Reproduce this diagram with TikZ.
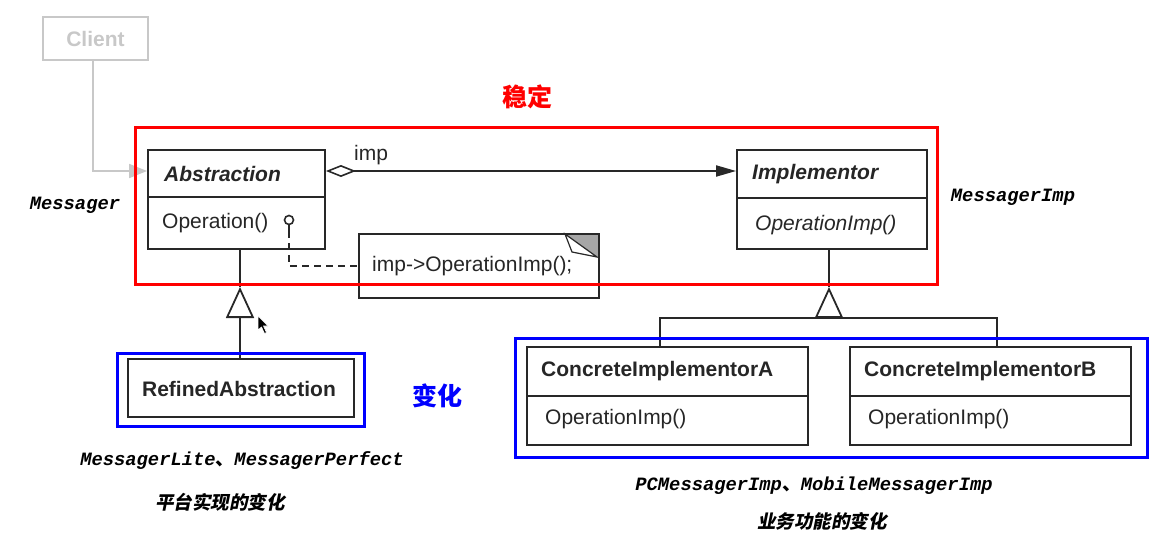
\documentclass[tikz,border=0pt]{standalone}
\usepackage{fontspec}
\setmainfont{Liberation Sans}
\newfontfamily\monob{Liberation Mono}
\newfontfamily\cjk{Noto Sans CJK SC}
\newfontfamily\cjksl{Noto Sans CJK SC}[FakeSlant=0.2]
\usetikzlibrary{arrows.meta}
\definecolor{ured}{RGB}{255,0,0}
\definecolor{ublue}{RGB}{0,0,255}
\definecolor{ugray}{RGB}{200,200,200}
\definecolor{uline}{RGB}{40,40,40}
\begin{document}
\begin{tikzpicture}[x=1pt,y=-1pt,
  box/.style={draw=uline, line width=1.8pt, fill=white, inner sep=0pt},
  boxline/.style={draw=uline, line width=1.8pt},
  uml/.style={inner sep=0pt, text=black!85, font=\fontsize{21}{25}\selectfont},
  umlb/.style={uml, font=\fontsize{21}{25}\selectfont\bfseries},
  umlbi/.style={uml, font=\fontsize{21}{25}\selectfont\bfseries\itshape},
  umli/.style={uml, font=\fontsize{21}{25}\selectfont\itshape},
  frame/.style={line width=3pt},
  mono/.style={inner sep=0pt, font=\monob\bfseries\itshape\fontsize{18.8}{22}\selectfont},
  cjkcap/.style={inner sep=0pt, font=\cjksl\bfseries\fontsize{18.5}{22}\selectfont},
  cjkbig/.style={inner sep=0pt, font=\cjk\bfseries\fontsize{25}{30}\selectfont},
  gen/.style={boxline, -{Triangle[open, length=31pt, width=28pt, line width=1.8pt]}}
]
\useasboundingbox (0,0) rectangle (1167,559);

% Client
\node[draw=ugray, line width=1.8pt, minimum width=105pt, minimum height=43pt, inner sep=0pt,
      text=ugray, font=\fontsize{21}{25}\selectfont\bfseries] (client) at (95.5,38.5) {Client};

% Abstraction
\node[box, minimum width=177pt, minimum height=99pt] (abs) at (236.5,199.5) {};
\draw[boxline] (abs.west |- 0,197) -- (abs.east |- 0,197);
\node[umlbi, anchor=west] (absT) at (164,174) {Abstraction};
\node[uml, anchor=west] (absO) at (162,223) {Operation()};

% Implementor
\node[box, minimum width=190pt, minimum height=99pt] (impl) at (832,199.5) {};
\draw[boxline] (impl.west |- 0,198) -- (impl.east |- 0,198);
\node[umlbi, anchor=west] (implT) at (752,174) {Implementor};
\node[umli, anchor=west] (implO) at (755,225) {OperationImp()};

% Note
\node[box, minimum width=240pt, minimum height=64pt] (note) at (479,266) {};
\fill[gray!70] (565,234) -- (599,234) -- (599,258) -- cycle;
\draw[uline, line width=1.2pt, fill=white] (565,234) -- (597,257) -- (572,252) -- cycle;
\draw[boxline] (565,234) -- (599,234) -- (599,258);
\node[uml, anchor=west] (noteT) at (372,266) {imp->OperationImp();};

% lollipop + dashed note link
\node[circle, draw=uline, line width=1.6pt, minimum size=9pt, inner sep=0pt] (lol) at (289,220) {};
\draw[boxline] (lol.south) -- ++(0,6) coordinate (lolb);
\draw[boxline, dash pattern=on 7pt off 5pt] (lolb) |- (note.west);

% aggregation
\draw[boxline, {Diamond[open, length=30pt, width=12pt, line width=1.6pt]}-{Triangle[length=20pt, width=11pt]}]
  (abs.east |- 0,171) -- (impl.west |- 0,171);
\node[uml, anchor=west] (impL) at (354,155) {imp};

% client link
\draw[draw=ugray, line width=1.8pt, -{Triangle[length=18pt, width=14pt]}]
  (client.south -| 93,0) |- (abs.west |- 0,171);

% Refined abstraction
\node[box, minimum width=226pt, minimum height=58pt] (ref) at (241,388) {};
\node[umlb] (refT) at (239,389) {RefinedAbstraction};
\coordinate (t1) at (240,287);
\draw[boxline] (t1) -- (t1 |- abs.south);
\draw[gen] (t1 |- ref.north) -- (t1);

% Concrete implementors
\node[box, minimum width=281pt, minimum height=98pt] (cia) at (667.5,396) {};
\draw[boxline] (cia.west |- 0,396) -- (cia.east |- 0,396);
\node[umlb, anchor=west] (ciaT) at (541,371) {ConcreteImplementorA};
\node[uml, anchor=west] (ciaO) at (545,419) {OperationImp()};

\node[box, minimum width=281pt, minimum height=98pt] (cib) at (990.5,396) {};
\draw[boxline] (cib.west |- 0,396) -- (cib.east |- 0,396);
\node[umlb, anchor=west] (cibT) at (864,371) {ConcreteImplementorB};
\node[uml, anchor=west] (cibO) at (868,419) {OperationImp()};

\coordinate (t2) at (829,287);
\coordinate (bar) at (829,318);
\coordinate (ba) at (660,318);
\coordinate (bb) at (997,318);
\draw[boxline] (t2) -- (t2 |- impl.south);
\draw[gen] (bar) -- (t2);
\draw[boxline] (ba |- cia.north) -- (ba) -- (bb) -- (bb |- cib.north);

% cursor
\draw[fill=black, draw=white, line width=0.6pt] (258,316) -- (258,330) -- (261.5,327) -- (264.5,333.5) -- (266.5,332.5) -- (263.5,326) -- (268,326) -- cycle;

% frames
\draw[ured, frame] (135,128) rectangle (937,284);
\draw[ublue, frame] (117,353) rectangle (364,426);
\draw[ublue, frame] (515,338) rectangle (1147,457);

% labels
\node[cjkbig, text=ured] (stable) at (527,97) {稳定};
\node[cjkbig, text=ublue] (change) at (437,396) {变化};
\node[mono] (lm) at (75,205) {Messager};
\node[mono] (lmi) at (1013,197) {MessagerImp};
\node[mono] (lref) at (242,461) {MessagerLite{\cjk\bfseries 、}MessagerPerfect};
\node[cjkcap] (lref2) at (220,502) {平台实现的变化};
\node[mono] (lci) at (814,486) {PCMessagerImp{\cjk\bfseries 、}MobileMessagerImp};
\node[cjkcap] (lci2) at (822,521) {业务功能的变化};
\end{tikzpicture}
\end{document}
